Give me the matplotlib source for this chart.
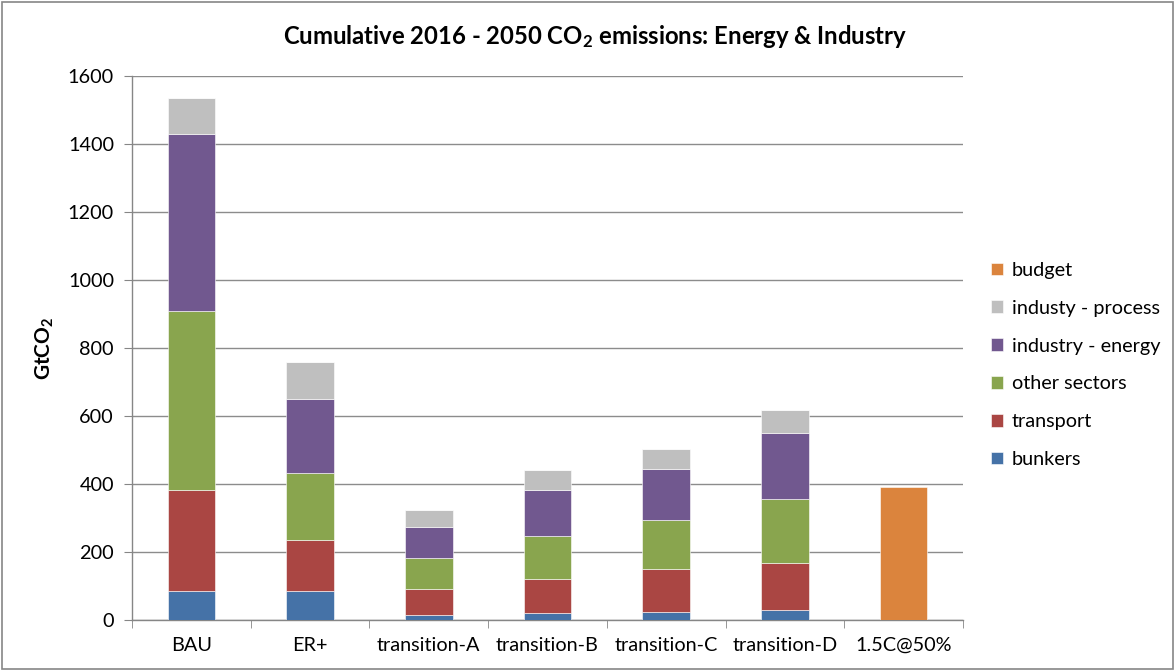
import matplotlib
matplotlib.use("Agg")
import matplotlib.pyplot as plt
import numpy as np
from matplotlib.patches import Rectangle

plt.rcParams['font.family'] = ['Lato', 'DejaVu Sans']
plt.rcParams['mathtext.default'] = 'regular'

categories = ["BAU", "ER+", "transition-A", "transition-B", "transition-C",
              "transition-D", "1.5C@50%"]
bunkers = [86, 86, 16, 21, 23, 30, 0]
transport = [296, 150, 74, 99, 126, 139, 0]
other_sectors = [526, 195, 93, 128, 146, 187, 0]
industry_energy = [521, 218, 92, 134, 150, 194, 0]
industry_process = [107, 109, 49, 60, 59, 68, 0]
budget = [0, 0, 0, 0, 0, 0, 392]

series = [
    ("bunkers", bunkers, "#4572A7"),
    ("transport", transport, "#AA4643"),
    ("other sectors", other_sectors, "#89A54E"),
    ("industry - energy", industry_energy, "#71588F"),
    ("industy - process", industry_process, "#BFBFBF"),
    ("budget", budget, "#DB843D"),
]

W, H = 1174, 670
fig = plt.figure(figsize=(W / 100, H / 100), dpi=100)
ax = fig.add_axes([132 / W, 1 - 620 / H, (963 - 132) / W, (620 - 76) / H])

x = np.arange(len(categories))
bottom = np.zeros(len(categories))
handles = []
for name, vals, color in series:
    vals = np.array(vals, dtype=float)
    b = ax.bar(x, vals, 0.40, bottom=bottom, color=color, label=name,
               edgecolor="white", linewidth=0.4, zorder=3)
    bottom += vals
    handles.append(b)

ax.set_xlim(-0.5, len(categories) - 0.5)
ax.set_ylim(0, 1600)
ax.set_yticks(np.arange(0, 1601, 200))
ax.set_xticks(x)
ax.set_xticklabels(categories)
ax.set_xticks(np.arange(-0.5, len(categories), 1.0), minor=True)
ax.tick_params(axis='x', which='major', length=0, pad=12, labelsize=14.3)
ax.tick_params(axis='x', which='minor', length=6, color="#868686", direction='out')
ax.tick_params(axis='y', length=6, color="#868686", direction='out', labelsize=14.3, pad=7)
ax.yaxis.grid(True, color="#8c8c8c", linewidth=1.0, zorder=0)
ax.set_axisbelow(True)
for side in ("top", "right"):
    ax.spines[side].set_visible(False)
for side in ("left", "bottom"):
    ax.spines[side].set_color("#868686")
    ax.spines[side].set_linewidth(1.0)

fig.text(45 / W, 1 - 348 / H, "GtCO$_2$", rotation=90, ha='center', va='center',
         fontsize=15, fontweight='bold')
fig.text(595 / W, 1 - 37 / H,
         "Cumulative 2016 - 2050 CO$_2$ emissions: Energy & Industry",
         ha='center', va='center', fontsize=17.2, fontweight='bold')

leg = fig.legend(handles[::-1], [s[0] for s in series][::-1],
                 loc='upper left', bbox_to_anchor=(977 / W, 1 - 248 / H),
                 frameon=False, fontsize=14.3, handlelength=0.6, handleheight=0.6,
                 handletextpad=0.45, labelspacing=1.05, borderpad=0.2)

fig.patches.append(Rectangle((1.5 / W, 1.5 / H), 1 - 3 / W, 1 - 3 / H,
                             transform=fig.transFigure, fill=False,
                             edgecolor="#868686", linewidth=1.2))

fig.savefig("out.png", dpi=100)
